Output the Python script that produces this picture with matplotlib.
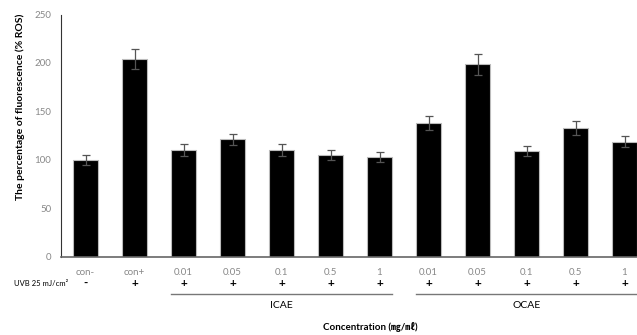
import matplotlib.pyplot as plt
import numpy as np

plt.rcParams['font.family'] = ['Lato', 'Noto Sans CJK KR', 'DejaVu Sans']

# data
labels = ["con-", "con+", "0.01", "0.05", "0.1", "0.5", "1",
          "0.01", "0.05", "0.1", "0.5", "1"]
uvb = ["-", "+", "+", "+", "+", "+", "+", "+", "+", "+", "+", "+"]
ros = [100, 204, 110, 121, 110, 105, 102.5, 138, 198.5, 109, 133, 118.5]
err = [5, 10, 6, 6, 6, 5.5, 5, 7.5, 11, 5.5, 7, 5.5]
groups = [("ICAE", 2, 6), ("OCAE", 7, 11)]

W, H = 637, 335
fig = plt.figure(figsize=(W / 100, H / 100), dpi=100)
ax = fig.add_axes([61 / W, 78.5 / H, 1 - 61 / W, 242 / H])

x = np.arange(len(ros))
ax.bar(x, ros, width=0.5, color="black", edgecolor="#bbbbbb", linewidth=0.8,
       yerr=err, error_kw=dict(ecolor="#555555", elinewidth=0.9, capsize=3, capthick=0.9))

ax.set_xlim(-0.5, 11.255)
ax.set_ylim(0, 250)
ax.set_yticks([0, 50, 100, 150, 200, 250])
ax.tick_params(axis="y", length=0, labelsize=7, labelcolor="#888888", pad=7)
ax.set_xticks(x)
ax.set_xticklabels(labels)
ax.tick_params(axis="x", length=0, labelsize=7, labelcolor="#888888", pad=8)
for s in ["top", "right"]:
    ax.spines[s].set_visible(False)
ax.spines["left"].set_color("#333333")
ax.spines["bottom"].set_color("#666666")
ax.spines["bottom"].set_linewidth(1.2)

fig.text(20 / W, 1 - 107 / H, "The percentage of fluorescence (% ROS)", rotation=90,
         fontsize=7.5, fontweight="bold", ha="center", va="center")

trans = ax.get_xaxis_transform()
fig.text(41 / W, 1 - 283 / H, "UVB 25 mJ/cm²", fontsize=5.5, ha="center", va="center")
for xi, sign in zip(x, uvb):
    ax.text(xi, -0.112, sign, transform=trans, fontsize=8.5, fontweight="bold",
            ha="center", va="center", clip_on=False)

for name, a, b in groups:
    ax.plot([a - 0.25, b + 0.25], [-0.157, -0.157], transform=trans, color="#777777",
            linewidth=1, clip_on=False)
    ax.text((a + b) / 2, -0.202, name, transform=trans, fontsize=7.5,
            ha="center", va="center", clip_on=False)

fig.text(370 / W, 1 - 327 / H, "Concentration (㎎/㎖)", fontsize=7, fontweight="bold",
         ha="center", va="center")

fig.savefig("out.png", dpi=100)
